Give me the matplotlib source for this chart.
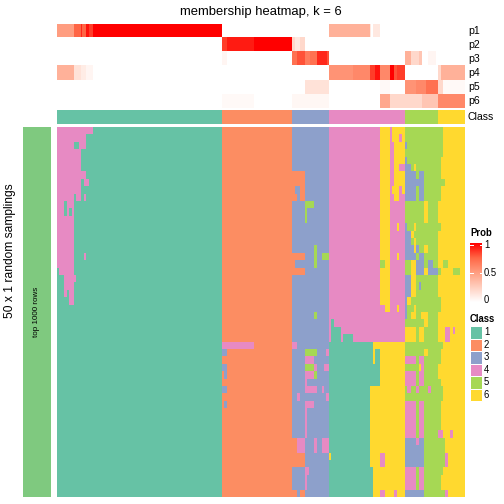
import numpy as np
import matplotlib.pyplot as plt
from matplotlib.colors import ListedColormap, LinearSegmentedColormap
from matplotlib.patches import Rectangle

plt.rcParams['font.family'] = ['Liberation Sans', 'DejaVu Sans']

title = 'membership heatmap, k = 6'
class_labels = ['1', '2', '3', '4', '5', '6']
class_colors = ['#66C2A5', '#FC8D62', '#8DA0CB', '#E78AC3', '#A6D854', '#FFD92F']
# samples per predicted class, left to right
class_sizes = [97, 41, 22, 45, 19, 16]
prob_labels = ['p1', 'p2', 'p3', 'p4', 'p5', 'p6']
n_samplings = 50

# membership probability runs: (first col, end col, prob)
p1_runs = [(0, 10, 0.5), (10, 14, 0.75), (14, 15, 0.9), (15, 17, 0.75), (17, 19, 0.95),
           (19, 21, 0.85), (21, 97, 1.0), (160, 184, 0.4), (184, 185, 0.12), (186, 190, 0.12)]
p2_runs = [(97, 100, 0.85), (100, 116, 0.93), (116, 138, 1.0), (138, 140, 0.2),
           (140, 143, 0.12), (143, 146, 0.2)]
p3_runs = [(97, 100, 0.05), (138, 141, 0.7), (141, 146, 0.8), (146, 149, 0.65),
           (149, 153, 0.7), (153, 159, 0.9), (159, 160, 0.8), (205, 208, 0.4),
           (208, 213, 0.2), (213, 215, 0.3), (218, 223, 0.05)]
p4_runs = [(0, 10, 0.4), (10, 14, 0.15), (14, 17, 0.1), (17, 21, 0.05), (160, 174, 0.55),
           (174, 184, 0.6), (184, 187, 0.85), (187, 190, 0.95), (190, 196, 0.6),
           (196, 198, 1.0), (198, 200, 0.8), (200, 205, 0.85), (224, 226, 0.2),
           (226, 240, 0.4)]
p5_runs = [(146, 160, 0.15), (190, 196, 0.03), (205, 211, 0.55), (211, 217, 0.6),
           (217, 224, 0.7), (224, 227, 0.2), (227, 240, 0.03)]
p6_runs = [(97, 116, 0.03), (138, 160, 0.04), (190, 196, 0.45), (196, 205, 0.2),
           (205, 215, 0.2), (215, 224, 0.3), (224, 240, 0.6)]

# class calls that differ from the consensus: (row0, row1, col0, col1, class)
patches = [
    (0, 1, 0, 21, 4), (1, 2, 0, 17, 4), (2, 3, 0, 10, 4), (2, 3, 13, 17, 4), (3, 6, 0, 14, 4),
    (6, 7, 0, 17, 4), (7, 8, 0, 14, 4), (7, 8, 16, 19, 4), (8, 9, 0, 14, 4), (9, 10, 0, 10, 4),
    (9, 10, 11, 14, 4), (9, 10, 16, 17, 4), (10, 12, 0, 4, 4), (10, 11, 6, 10, 4),
    (11, 12, 6, 7, 4), (11, 12, 9, 10, 4), (12, 19, 0, 10, 4), (17, 18, 16, 17, 4),
    (19, 20, 1, 10, 4), (20, 21, 4, 11, 4), (21, 22, 4, 10, 4), (22, 23, 4, 6, 4),
    (22, 23, 7, 10, 4), (23, 24, 7, 10, 4),
    (29, 30, 97, 116, 4), (30, 31, 97, 100, 3), (32, 33, 97, 100, 3), (33, 34, 98, 100, 3),
    (35, 36, 97, 100, 3), (37, 38, 98, 100, 3),
    (6, 8, 138, 146, 2), (8, 9, 138, 140, 2), (8, 9, 143, 146, 2), (9, 10, 138, 141, 2),
    (9, 10, 143, 146, 2), (17, 18, 138, 146, 2), (18, 19, 138, 140, 2), (19, 20, 138, 146, 2),
    (42, 44, 138, 141, 2), (44, 46, 138, 146, 2), (49, 50, 138, 141, 2), (49, 50, 143, 146, 2),
    (10, 11, 146, 151, 5), (11, 13, 146, 147, 5), (16, 19, 151, 153, 5), (17, 18, 156, 160, 5),
    (25, 26, 151, 153, 5), (30, 31, 146, 153, 5), (32, 33, 146, 151, 5), (33, 34, 151, 153, 5),
    (29, 30, 138, 141, 4), (30, 31, 158, 160, 4), (31, 32, 146, 151, 4), (32, 33, 151, 153, 4),
    (32, 33, 157, 160, 4), (33, 34, 146, 151, 4), (34, 35, 146, 147, 4), (35, 36, 146, 153, 4),
    (35, 36, 156, 157, 4), (36, 37, 141, 143, 4), (36, 37, 158, 160, 4), (37, 38, 146, 151, 4),
    (38, 42, 146, 147, 4), (42, 44, 141, 146, 4), (42, 44, 151, 153, 4), (42, 44, 156, 160, 4),
    (46, 47, 146, 148, 4), (47, 49, 146, 147, 4),
    (0, 24, 190, 196, 6), (24, 25, 193, 196, 6), (18, 19, 190, 193, 5),
    (0, 1, 197, 205, 6), (1, 2, 197, 201, 6), (1, 2, 203, 205, 6), (2, 5, 198, 205, 6),
    (5, 6, 198, 201, 6), (6, 8, 198, 205, 6), (8, 9, 197, 201, 6), (8, 9, 203, 205, 6),
    (9, 10, 198, 201, 6), (13, 14, 200, 201, 6), (17, 18, 200, 201, 6), (24, 25, 200, 201, 6),
    (26, 27, 161, 163, 1), (27, 29, 161, 167, 1), (28, 29, 168, 174, 1),
    (29, 30, 160, 186, 1), (29, 30, 186, 205, 6),
    (30, 32, 160, 186, 1), (30, 32, 186, 187, 6), (30, 32, 187, 190, 1), (30, 32, 190, 205, 6),
    (32, 35, 160, 190, 1), (32, 35, 190, 205, 6),
    (35, 50, 160, 184, 1), (35, 50, 184, 205, 6), (44, 45, 160, 161, 6), (46, 50, 184, 186, 1),
    (44, 46, 190, 193, 4), (49, 50, 190, 193, 4), (49, 50, 198, 200, 4),
]

# columns 205-239 (classes 5 and 6), one run string per sampling: class:width
right_rows = [
    "5:22 6:13", "5:22 6:13", "3:1 5:21 6:13", "5:22 6:13", "3:1 5:20 6:14",
    "3:3 5:2 6:1 5:15 6:14", "3:6 5:2 3:3 5:10 6:14", "3:11 5:12 6:12",
    "3:6 5:2 3:3 5:10 6:14", "3:6 5:2 3:3 5:10 6:14",
    "5:11 6:2 5:6 6:16", "5:11 6:2 5:6 6:16", "5:11 6:2 5:6 6:16",
    "3:1 5:4 6:1 5:15 6:14", "3:3 6:2 5:14 6:16", "3:3 5:2 6:1 5:13 6:16",
    "3:5 6:1 3:2 5:3 6:2 5:6 6:16", "3:6 5:2 3:3 5:8 6:16",
    "5:3 6:3 3:5 5:2 3:3 5:3 6:3 5:3 6:10", "5:3 6:3 3:5 6:2 3:6 5:2 6:7 5:4 6:3",
    "3:3 6:3 5:13 6:16", "3:3 6:3 5:2 3:1 5:10 6:16", "3:3 6:3 5:13 6:16",
    "3:1 6:2 5:18 6:14", "3:1 5:4 6:1 5:15 6:14", "3:1 5:2 6:3 5:3 6:4 5:6 6:16",
    "5:11 6:2 5:6 6:16", "6:6 5:2 6:3 5:8 6:4 4:3 6:2 4:1 6:6",
    "6:6 5:2 6:3 5:8 6:4 4:3 6:9", "5:22 6:13", "5:11 6:2 5:8 6:14",
    "4:6 5:2 4:3 5:10 6:14", "5:8 6:1 4:2 5:8 6:16", "4:6 5:2 4:3 5:8 6:16",
    "4:6 5:2 4:3 5:10 6:14", "5:1 4:2 5:3 4:2 5:5 4:2 5:7 6:13", "5:22 6:13",
    "4:6 5:2 4:3 5:10 6:14", "4:6 5:2 4:3 5:10 6:14", "4:6 5:2 4:3 5:10 6:14",
    "4:6 5:2 4:3 5:10 6:14", "4:6 5:2 4:3 5:8 4:3 6:4 4:2 6:7",
    "3:6 4:2 3:3 5:12 6:12", "3:11 5:12 6:12", "3:11 5:12 4:2 6:10",
    "3:11 5:12 4:2 6:10", "4:6 5:2 4:3 5:11 6:13", "4:6 5:2 4:3 5:10 6:14",
    "4:6 5:2 4:3 5:10 6:14", "3:11 5:12 4:2 6:10",
]

n_cols = sum(class_sizes)
consensus = np.repeat(np.arange(1, 7), class_sizes)

calls = np.tile(consensus, (n_samplings, 1))
for r0, r1, c0, c1, k in patches:
    calls[r0:r1, c0:c1] = k
for r, s in enumerate(right_rows):
    vals = []
    for tok in s.split():
        k, w = tok.split(':')
        vals += [int(k)] * int(w)
    calls[r, 205:205 + len(vals)] = vals

probs = np.zeros((6, n_cols))
for i, runs in enumerate([p1_runs, p2_runs, p3_runs, p4_runs, p5_runs, p6_runs]):
    for c0, c1, v in runs:
        probs[i, c0:c1] = v

class_cmap = ListedColormap(class_colors)
prob_cmap = LinearSegmentedColormap.from_list(
    'prob', [(0, '#FFFFFF'), (0.25, '#FFCFBF'), (0.5, '#FF9E81'), (0.75, '#FF6746'), (1, '#FF0000')])

W = H = 504
fig = plt.figure(figsize=(7, 7), dpi=72)


def px_axes(x0, y0, x1, y1):
    ax = fig.add_axes([x0 / W, 1 - y1 / H, (x1 - x0) / W, (y1 - y0) / H])
    ax.set_axis_off()
    return ax


# probability annotation
ax = px_axes(57, 24, 465, 108.3)
ax.imshow(probs, cmap=prob_cmap, vmin=0, vmax=1, aspect='auto', interpolation='nearest')

# class annotation
ax = px_axes(57, 110, 465, 124)
ax.imshow(consensus[None, :], cmap=class_cmap, vmin=0.5, vmax=6.5, aspect='auto',
          interpolation='nearest')

# main heatmap
ax = px_axes(57, 127, 465, 497)
ax.imshow(calls, cmap=class_cmap, vmin=0.5, vmax=6.5, aspect='auto', interpolation='nearest')

# row annotation
ax = px_axes(23, 127, 51, 497)
ax.add_patch(Rectangle((0, 0), 1, 1, facecolor='#7FC97F', edgecolor='none'))
ax.set_xlim(0, 1)
ax.set_ylim(0, 1)

# overlay for text and legends, in pixel units
ov = fig.add_axes([0, 0, 1, 1])
ov.set_axis_off()
ov.patch.set_alpha(0)

ov.text(261, 12.5, title, ha='center', va='center', fontsize=13)
ov.text(37, 312, 'top 1000 rows', rotation=90, ha='center', va='center', fontsize=8)
ov.text(10, 251, '50 x 1 random samplings', rotation=90, ha='center', va='center',
        fontsize=12)

row_h = (108.3 - 24) / 6
for i, lab in enumerate(prob_labels):
    ov.text(468, 24 + row_h * (i + 0.5), lab, ha='left', va='center', fontsize=10.5)
ov.text(468, 117, 'Class', ha='left', va='center', fontsize=10.5)

# probability legend
ov.text(470, 233, 'Prob', ha='left', va='center', fontsize=9.5, fontweight='bold')
grad = np.linspace(1, 0, 200)[:, None]
ov.imshow(grad, cmap=prob_cmap, vmin=0, vmax=1, extent=(470, 482, 302, 243),
          aspect='auto', interpolation='bilinear')
for y in [244.5, 273]:
    ov.plot([470, 472.5], [y, y], color='white', lw=1)
    ov.plot([479.5, 482], [y, y], color='white', lw=1)
for lab, y in [('1', 245), ('0.5', 273), ('0', 300)]:
    ov.text(484, y, lab, ha='left', va='center', fontsize=9.5)

# class legend
ov.text(470, 319, 'Class', ha='left', va='center', fontsize=9.5, fontweight='bold')
for i, (lab, col) in enumerate(zip(class_labels, class_colors)):
    y0 = 326 + 12.5 * i
    ov.add_patch(Rectangle((470, y0), 12, 12.5, facecolor=col, edgecolor='white', lw=1))
    ov.text(484, y0 + 6.25, lab, ha='left', va='center', fontsize=9.5)

ov.set_xlim(0, W)
ov.set_ylim(H, 0)

fig.savefig('out.png', dpi=72)
